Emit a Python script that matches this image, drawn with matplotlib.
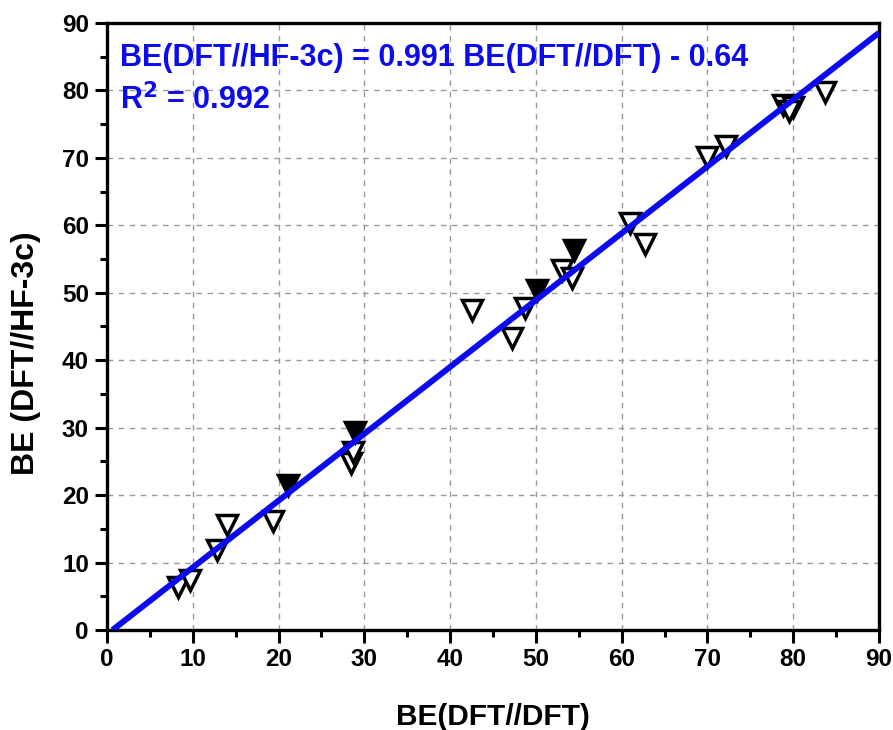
import numpy as np
import matplotlib.pyplot as plt
from matplotlib.ticker import MultipleLocator

plt.rcParams['font.family'] = ['Liberation Sans', 'DejaVu Sans']
plt.rcParams['font.weight'] = 'bold'

# open triangles
x_open = [8.3, 9.7, 12.8, 14.0, 19.4, 28.5, 28.7, 42.5, 47.2, 48.7, 53.0, 54.2,
          61.0, 62.7, 69.9, 72.2, 78.8, 80.0, 79.5, 83.7]
y_open = [6.4, 7.4, 11.9, 15.6, 16.1, 24.7, 26.4, 47.4, 43.3, 47.7, 53.4, 52.2,
          60.3, 57.3, 70.2, 71.7, 77.8, 77.6, 76.9, 79.8]
# filled (overlapping) triangles
x_fill = [21.1, 28.9, 50.1, 54.4]
y_fill = [21.5, 29.4, 50.4, 56.3]

slope = 0.991
intercept = -0.64
r2 = 0.992

fig = plt.figure(figsize=(8.93, 7.30), dpi=100)
ax = fig.add_axes([0.1198, 0.137, 0.8645, 0.8315])

ax.plot(x_open, y_open, linestyle='none', marker='v', markersize=15,
        markerfacecolor='white', markeredgecolor='black', markeredgewidth=2.5, zorder=3)
ax.plot(x_fill, y_fill, linestyle='none', marker='v', markersize=15,
        markerfacecolor='black', markeredgecolor='black', markeredgewidth=2.5, zorder=3)

xf = np.array([-intercept / slope, 90])
ax.plot(xf, slope * xf + intercept, color='#0b0bee', lw=4.3, zorder=4, solid_capstyle='butt')

ax.text(1.5, 84.8, 'BE(DFT//HF-3c) = %.3f BE(DFT//DFT) - %.2f' % (slope, -intercept),
        color='#0b0bee', fontsize=22, fontweight='bold', va='center', ha='left')
ax.text(1.5, 78.6, r'R$^\mathbf{2}$ = %.3f' % r2,
        color='#0b0bee', fontsize=22, fontweight='bold', va='center', ha='left')

ax.set_xlim(0, 90)
ax.set_ylim(0, 90)
ax.xaxis.set_major_locator(MultipleLocator(10))
ax.yaxis.set_major_locator(MultipleLocator(10))
ax.xaxis.set_minor_locator(MultipleLocator(5))
ax.yaxis.set_minor_locator(MultipleLocator(5))
ax.tick_params(which='major', direction='out', length=9, width=2.2, labelsize=17.5, pad=4)
ax.tick_params(which='minor', direction='out', length=5, width=2.2)
for lab in ax.get_xticklabels() + ax.get_yticklabels():
    lab.set_fontweight('bold')
ax.grid(True, which='major', color='#9a9a9a', linestyle=(0, (4, 4)), lw=1.0)
ax.set_axisbelow(True)
for s in ax.spines.values():
    s.set_linewidth(2.4)

ax.set_xlabel('BE(DFT//DFT)', fontsize=21.5, fontweight='bold')
ax.xaxis.set_label_coords(0.5, -0.143)
ax.set_ylabel('BE (DFT//HF-3c)', fontsize=23, fontweight='bold')
ax.yaxis.set_label_coords(-0.105, 0.456)
ax.yaxis.label.set_va('center')
ax.xaxis.label.set_va('center')

plt.savefig('out.png', dpi=100)
